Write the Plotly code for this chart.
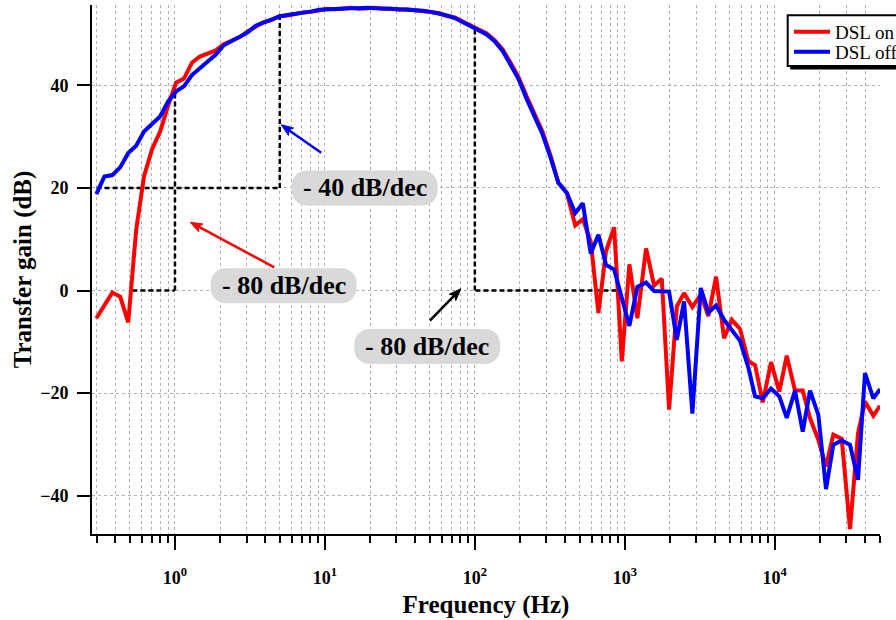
import math
import plotly.graph_objects as go

# Measured transfer gain versus frequency
freq_hz = [
    0.299, 0.338, 0.382, 0.431, 0.488, 0.551, 0.622, 0.704, 0.795, 0.899,
    1.016, 1.148, 1.297, 1.466, 1.656, 1.873, 2.116, 2.391, 2.703, 3.054,
    3.451, 3.901, 4.409, 4.982, 5.630, 6.364, 7.192, 8.127, 9.186, 10.38,
    11.73, 13.26, 14.98, 16.93, 19.14, 21.63, 24.44, 27.63, 31.22, 35.28,
    39.87, 45.07, 50.93, 57.56, 65.05, 73.51, 83.09, 93.89, 106.1, 119.9,
    135.5, 153.2, 173.1, 195.6, 221.1, 249.8, 282.3, 319.1, 360.6,
    411, 467, 525, 593, 667, 750, 849, 955, 1073, 1213,
    1387, 1568, 1765, 1974, 2222, 2485, 2823, 3212, 3608, 4062,
    4592, 5168, 5871, 6668, 7391, 8318, 9448, 10730, 12020, 13650,
    15370, 17190, 19530, 21980, 24590, 27970, 31770, 35920, 39990, 45430,
    50350,
]

gain_dsl_on = [
    -5.4, -2.9, -0.4, -1.2, -6.2, 11.8, 22.3, 27.6, 30.9, 36.0,
    40.5, 41.3, 44.4, 45.6, 46.2, 46.8, 48.0, 48.8, 49.4, 50.5,
    51.3, 52.3, 52.7, 53.5, 53.6, 54.0, 54.2, 54.3, 54.6, 54.9,
    54.8, 55.0, 55.1, 54.9, 55.0, 55.1, 54.9, 54.9, 54.7, 54.8,
    54.6, 54.4, 54.3, 54.1, 53.5, 53.2, 52.4, 51.6, 51.0, 50.1,
    48.8, 47.0, 44.4, 41.6, 37.9, 34.5, 31.0, 26.4, 21.0,
    19.0, 12.7, 13.9, 9.5, -4.4, 7.7, 12.3, -13.8, 5.1, -5.4,
    8.2, 1.0, 2.3, -23.2, -3.1, -0.5, -3.2, -0.8, -5.0, 2.7,
    -9.3, -5.7, -7.5, -13.8, -14.5, -21.8, -13.95, -19.7, -12.7, -19.5,
    -19.5, -24.85, -29.1, -34.3, -28.1, -28.9, -46.5, -27.8, -21.6, -24.4,
    -22.45,
]

gain_dsl_off = [
    18.8, 22.2, 22.5, 24.0, 26.8, 28.2, 31.0, 32.4, 33.9, 36.8,
    38.8, 39.8, 42.0, 43.3, 44.6, 46.0, 47.8, 48.6, 49.5, 50.3,
    51.6, 52.2, 52.9, 53.4, 53.7, 53.9, 54.1, 54.4, 54.7, 54.8,
    54.9, 55.0, 55.0, 55.0, 55.1, 55.0, 55.0, 54.9, 54.8, 54.7,
    54.7, 54.5, 54.3, 54.0, 53.6, 53.1, 52.3, 51.7, 50.9, 49.9,
    48.6, 46.7, 44.0, 41.2, 37.4, 34.0, 30.5, 26.0, 21.0,
    19.0, 15.1, 17.0, 7.2, 10.85, 5.0, 4.1, -1.8, -6.9, 0.7,
    1.56, -0.1, -0.2, -0.2, -9.6, -2.1, -24.0, 0.5, -4.3, -2.9,
    -5.7, -7.6, -9.8, -15.0, -20.6, -21.0, -19.1, -20.6, -24.8, -19.5,
    -27.5, -19.5, -24.2, -38.7, -30.05, -29.2, -30.05, -36.9, -16.1, -21.0,
    -19.2,
]

x_tick_vals = [1, 10, 100, 1000, 10000]
x_tick_text = ["10<sup>0</sup>", "10<sup>1</sup>", "10<sup>2</sup>",
               "10<sup>3</sup>", "10<sup>4</sup>"]
y_tick_vals = [-40, -20, 0, 20, 40]

# Slope guide lines (frequency in Hz, gain in dB)
guide_paths = [
    [(0.52, 0), (1.0, 0), (1.0, 40)],
    [(0.30, 20), (5.0, 20), (5.0, 53.3)],
    [(880, 0), (100, 0), (100, 51.3)],
]

# Slope labels: text, centre frequency, centre gain
slope_labels = [
    ("- 40 dB/dec", 18.4, 20.0),
    ("- 80 dB/dec", 5.30, 0.95),
    ("- 80 dB/dec", 48.1, -10.9),
]

# Pointer arrows: head frequency, head gain, tail offset right/down (px), colour
pointers = [
    (5.11, 32.3, 40, 28, "#0000ff"),
    (1.265, 13.3, 84, 45, "#ff0000"),
    (80.7, 0.35, -31, 32, "#000000"),
]

SERIF = "Liberation Serif, Times New Roman, serif"
GRID = "#b2b2b2"

fig = go.Figure()
fig.add_trace(go.Scatter(
    x=freq_hz, y=gain_dsl_on, mode="lines", name="DSL on",
    line=dict(color="#ff0000", width=4), legend="legend", showlegend=True,
))
fig.add_trace(go.Scatter(
    x=freq_hz, y=gain_dsl_off, mode="lines", name="DSL off",
    line=dict(color="#0000ff", width=4), legend="legend2", showlegend=True,
))

shapes = []
for path in guide_paths:
    for (x0, y0), (x1, y1) in zip(path[:-1], path[1:]):
        shapes.append(dict(
            type="line", xref="x", yref="y", x0=x0, y0=y0, x1=x1, y1=y1,
            line=dict(color="black", width=2.5, dash="5px,3px"),
            layer="between",
        ))


def pill(w, h, r):
    """Rounded-box outline centred on the anchor, in pixels."""
    a, b = w / 2 - r, h / 2 - r
    k = 0.5523 * r
    return (
        f"M{-a},{h/2} L{a},{h/2} "
        f"C{a+k},{h/2} {w/2},{b+k} {w/2},{b} L{w/2},{-b} "
        f"C{w/2},{-b-k} {a+k},{-h/2} {a},{-h/2} L{-a},{-h/2} "
        f"C{-a-k},{-h/2} {-w/2},{-b-k} {-w/2},{-b} L{-w/2},{b} "
        f"C{-w/2},{b+k} {-a-k},{h/2} {-a},{h/2} Z"
    )


annotations = []
for text, fx, gy in slope_labels:
    shapes.append(dict(
        type="path", xref="x", yref="y", xsizemode="pixel", ysizemode="pixel",
        xanchor=fx, yanchor=gy, path=pill(146, 35, 15),
        fillcolor="#d9d9d9", line=dict(width=0), layer="above",
    ))
    annotations.append(dict(
        x=math.log10(fx), y=gy, xref="x", yref="y",
        text=text, showarrow=False,
        font=dict(family=SERIF, size=26, color="black", weight="bold"),
    ))

# Arrows: a shaft plus a filled head, both sized in pixels around the tip
HEAD_LEN, HEAD_HALF = 12, 4.5
for fx, gy, dx, dy, col in pointers:
    # pixel-mode shape coordinates have y pointing up
    tx, ty = dx, -dy
    n = math.hypot(tx, ty)
    ux, uy = -tx / n, -ty / n          # unit vector tail -> tip
    px, py = -uy, ux                   # perpendicular
    bx, by = -HEAD_LEN * ux, -HEAD_LEN * uy
    shapes.append(dict(
        type="path", xref="x", yref="y", xsizemode="pixel", ysizemode="pixel",
        xanchor=fx, yanchor=gy,
        path=f"M{tx:.2f},{ty:.2f} L{bx * 0.6:.2f},{by * 0.6:.2f}",
        line=dict(color=col, width=2.5), layer="above",
    ))
    shapes.append(dict(
        type="path", xref="x", yref="y", xsizemode="pixel", ysizemode="pixel",
        xanchor=fx, yanchor=gy,
        path=(f"M0,0 L{bx + HEAD_HALF * px:.2f},{by + HEAD_HALF * py:.2f} "
              f"L{bx * 0.75:.2f},{by * 0.75:.2f} "
              f"L{bx - HEAD_HALF * px:.2f},{by - HEAD_HALF * py:.2f} Z"),
        fillcolor=col, line=dict(color=col, width=1), layer="above",
    ))

# Legend frame with a drop shadow (pixels from the plot's top-left corner)
for dx0, dy0, fill, edge in [(2.5, 3.5, "black", 0), (0, 0, "white", 2)]:
    shapes.append(dict(
        type="rect", xref="paper", yref="paper",
        xsizemode="pixel", ysizemode="pixel", xanchor=0, yanchor=1,
        x0=695.7 + dx0, x1=860 + dx0, y0=-10.3 - dy0, y1=-61.0 - dy0,
        fillcolor=fill, line=dict(color="black", width=edge), layer="above",
    ))

tick_font = dict(family=SERIF, size=18, color="black", weight="bold")
title_font = dict(family=SERIF, size=25, color="black", weight="bold")
legend_style = dict(
    xanchor="left", yanchor="top", bgcolor="rgba(0,0,0,0)", borderwidth=0,
    font=dict(family=SERIF, size=19, color="black"), itemwidth=36,
    visible=True,
)

fig.update_layout(
    width=896, height=620,
    margin=dict(l=92, r=16, t=5, b=86, autoexpand=False),
    paper_bgcolor="white", plot_bgcolor="white",
    showlegend=True,
    shapes=shapes, annotations=annotations,
    legend=dict(x=0.8845, y=0.9852, **legend_style),
    legend2=dict(x=0.8845, y=0.9473, **legend_style),
    xaxis=dict(
        type="log", range=[-0.5533, 4.702],
        tickmode="array", tickvals=x_tick_vals, ticktext=x_tick_text,
        ticks="outside", ticklen=14, tickwidth=2, tickcolor="black",
        ticklabelstandoff=12,
        showline=True, linewidth=2, linecolor="black",
        showgrid=True, gridcolor=GRID, gridwidth=1, griddash="dot",
        zeroline=False, tickfont=tick_font,
        minor=dict(
            dtick="D1", ticks="outside", ticklen=7, tickwidth=2,
            tickcolor="black", showgrid=True, gridcolor=GRID,
            gridwidth=1, griddash="dot",
        ),
        title=dict(text="Frequency (Hz)", font=title_font, standoff=9),
    ),
    yaxis=dict(
        range=[-47.44, 55.64],
        tickmode="array", tickvals=y_tick_vals,
        ticks="outside", ticklen=13, tickwidth=2, tickcolor="black",
        ticklabelstandoff=5,
        showline=True, linewidth=2, linecolor="black",
        showgrid=True, gridcolor=GRID, gridwidth=1, griddash="dot",
        zeroline=False, tickfont=tick_font,
        title=dict(text="Transfer gain (dB)", font=title_font, standoff=1),
    ),
)

fig.write_html("out.html")
